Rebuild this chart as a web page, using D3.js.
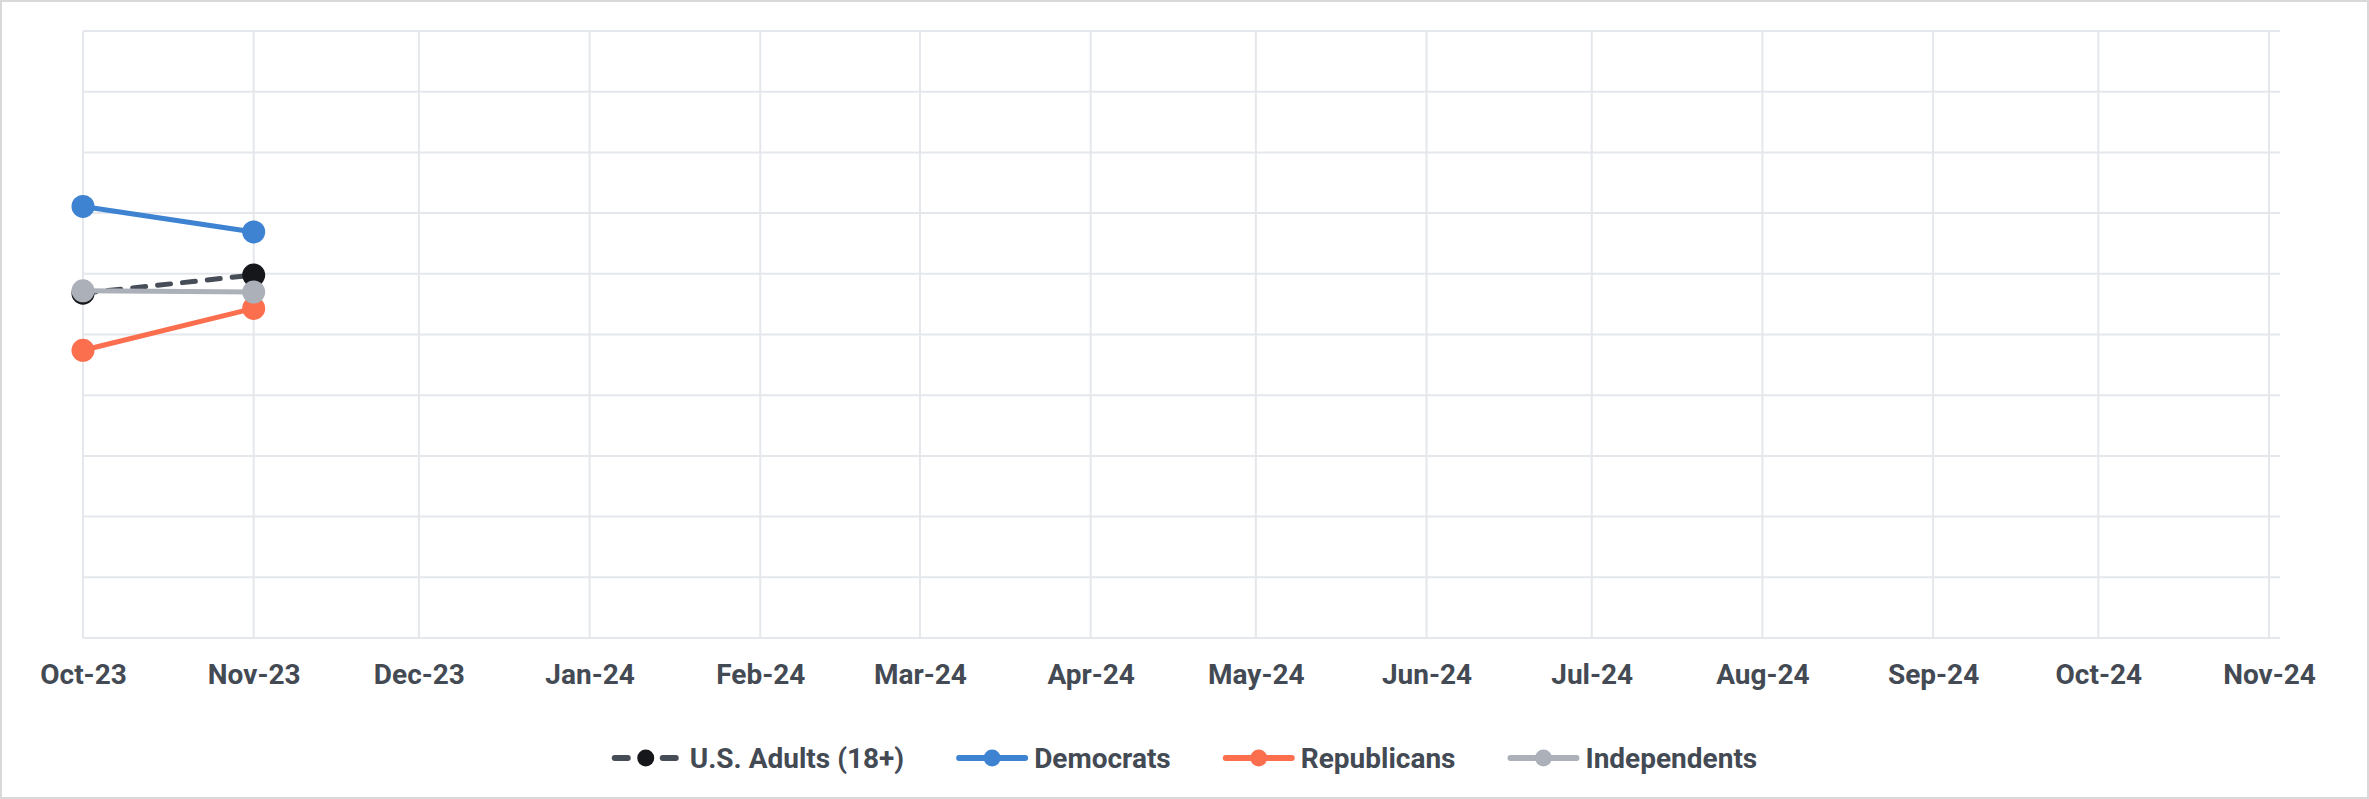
<!DOCTYPE html>
<html>
<head>
<meta charset="utf-8">
<script src="https://cdn.jsdelivr.net/npm/d3@7"></script>
<style>
  html, body { margin: 0; padding: 0; background: #ffffff; }
  svg text { font-family: Roboto, "Noto Sans", "Liberation Sans", sans-serif; font-weight: 700; }
</style>
</head>
<body>
<svg id="chart" width="2369" height="799"></svg>
<script>
// Monthly axis labels (x axis)
const monthLabels = ["Oct-23", "Nov-23", "Dec-23", "Jan-24", "Feb-24", "Mar-24", "Apr-24",
                     "May-24", "Jun-24", "Jul-24", "Aug-24", "Sep-24", "Oct-24", "Nov-24"];
// Survey waves
const surveyMonths = ["Oct-23", "Nov-23"];
// Share by group, per survey wave
const usAdults     = [56.8, 59.8];
const democrats    = [71.1, 66.9];
const republicans  = [47.4, 54.3];
const independents = [57.2, 57.0];
// Horizontal gridline levels
const yTicks = [0, 10, 20, 30, 40, 50, 60, 70, 80, 90, 100];

const seriesNames  = ["U.S. Adults (18+)", "Democrats", "Republicans", "Independents"];
const seriesValues = [usAdults, democrats, republicans, independents];
const lineColors   = ["#474d56", "#3e83d2", "#fb6f4f", "#abb0b9"];
const dotColors    = ["#16171b", "#3e83d2", "#fb6f4f", "#abb0b9"];
const dashed       = [true, false, false, false];

const W = 2369, H = 799;
const plot = { left: 83, right: 2280, top: 31, bottom: 638 };
const parseMonth = d3.utcParse("%b-%y");

const svg = d3.select("#chart");

// outer frame
svg.append("rect")
  .attr("x", 1).attr("y", 1).attr("width", W - 2).attr("height", H - 2)
  .attr("fill", "#ffffff").attr("stroke", "#d9d9d9").attr("stroke-width", 2);

const monthDates = monthLabels.map(parseMonth);
const x = d3.scaleUtc()
  .domain([monthDates[0], d3.utcDay.offset(monthDates[monthDates.length - 1], 2)])
  .range([plot.left, plot.right]);
const y = d3.scaleLinear().domain([0, 100]).range([plot.bottom, plot.top]);

const grid = svg.append("g").attr("stroke", "#e4e7eb").attr("stroke-width", 2);
grid.selectAll("line.h").data(yTicks).join("line")
  .attr("class", "h")
  .attr("x1", plot.left).attr("x2", plot.right)
  .attr("y1", d => y(d)).attr("y2", d => y(d));
grid.selectAll("line.v").data(monthDates).join("line")
  .attr("class", "v")
  .attr("x1", d => x(d)).attr("x2", d => x(d))
  .attr("y1", plot.top).attr("y2", plot.bottom);

// x axis labels
const xAxis = d3.axisBottom(x)
  .tickValues(monthDates)
  .tickFormat((d, i) => monthLabels[i])
  .tickSize(0).tickPadding(0);
const axisG = svg.append("g").attr("transform", `translate(0,${plot.bottom})`).call(xAxis);
axisG.select(".domain").remove();
axisG.selectAll("text")
  .attr("y", 46).attr("dy", null)
  .attr("fill", "#434a54")
  .style("font-size", "28px")
  .style("font-weight", 700);

// series
const surveyDates = surveyMonths.map(parseMonth);
const line = d3.line().x((d, i) => x(surveyDates[i])).y(d => y(d));

seriesValues.forEach((vals, s) => {
  const g = svg.append("g");
  g.append("path")
    .attr("d", line(vals))
    .attr("fill", "none")
    .attr("stroke", lineColors[s])
    .attr("stroke-width", 5)
    .attr("stroke-linecap", "round")
    .attr("stroke-linejoin", "round")
    .attr("stroke-dasharray", dashed[s] ? "13,12" : null);
  g.selectAll("circle").data(vals).join("circle")
    .attr("cx", (d, i) => x(surveyDates[i]))
    .attr("cy", d => y(d))
    .attr("r", 11.5)
    .attr("fill", dotColors[s]);
});

// legend
const legend = svg.append("g");
const symW = 72, symGap = 6, itemGap = 52, legendY = 758;
const items = seriesNames.map((name, s) => {
  const it = legend.append("g");
  if (dashed[s]) {
    it.append("line").attr("x1", 3).attr("x2", 16).attr("y1", 0).attr("y2", 0)
      .attr("stroke", lineColors[s]).attr("stroke-width", 6).attr("stroke-linecap", "round");
    it.append("line").attr("x1", 51).attr("x2", 64).attr("y1", 0).attr("y2", 0)
      .attr("stroke", lineColors[s]).attr("stroke-width", 6).attr("stroke-linecap", "round");
  } else {
    it.append("line").attr("x1", 3).attr("x2", symW - 3).attr("y1", 0).attr("y2", 0)
      .attr("stroke", lineColors[s]).attr("stroke-width", 6).attr("stroke-linecap", "round");
  }
  it.append("circle").attr("cx", dashed[s] ? 34 : symW / 2).attr("cy", 0).attr("r", 8.5)
    .attr("fill", dotColors[s]);
  const t = it.append("text").attr("x", symW + symGap).attr("y", 0).attr("dy", "0.35em")
    .attr("fill", "#434a54").style("font-size", "28px").text(name);
  return { g: it, w: symW + symGap + t.node().getComputedTextLength() };
});
const total = d3.sum(items, d => d.w) + itemGap * (items.length - 1);
let cx = (W - total) / 2;
items.forEach(d => {
  d.g.attr("transform", `translate(${cx},${legendY})`);
  cx += d.w + itemGap;
});
</script>
</body>
</html>
